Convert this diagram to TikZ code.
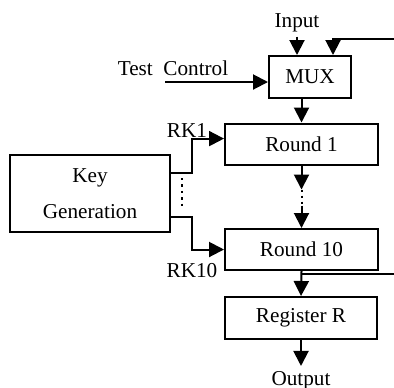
\documentclass[tikz,border=0pt]{standalone}
\usepackage{fontspec}
\setmainfont{Liberation Serif}
\usetikzlibrary{arrows.meta}
\begin{document}
\begin{tikzpicture}[x=.5pt,y=-.5pt,line width=1pt,line cap=butt,line join=miter,
		>={Triangle[length=7.5pt,width=7.5pt]},font=\fontsize{10.6}{12.7}\selectfont]
	\tikzset{blk/.style 2 args={draw,minimum width=#1pt,minimum height=#2pt,inner sep=0pt},
		lbl/.style={anchor=base,inner sep=2pt}}
	\useasboundingbox (0,0) rectangle (394,387);
	% blocks
	\node[blk={41}{21}] (mux) at (310,77) {MUX};
	\node[blk={76.5}{20.5}] (rnd1) at (301.5,144) {Round 1};
	\node[blk={76.5}{20.5}] (rnd10) at (301.5,249.5) {Round 10};
	\node[blk={76}{21}] (reg) at (301,318) {Register R};
	\node[blk={80}{38.5},align=center] (key) at (90,193.5) {Key\\[5.5pt]Generation};
	% texts
	\node[lbl] (inp) at (297,27) {Input};
	\node[lbl] (outp) at (301,385) {Output};
	\node[lbl] (tc) at (173,75) {Test\ \ Control};
	\node[lbl] (rk1) at (187,137) {RK1};
	\node[lbl] (rk10) at (192,277) {RK10};
	\coordinate (tcs) at (165,82);
	\coordinate (fbin) at (394,39);
	\coordinate (fbout) at (394,274);
	% connections
	\draw[->] (inp.south) -- (inp.south |- mux.north);
	\draw[->] (fbin) -| ([xshift=11.5pt]mux.north);
	\draw[->] (tcs) -- (tcs -| mux.west);
	\draw[->] (rnd1.north |- mux.south) -- (rnd1.north);
	\draw[->] (rnd1.south) -- ++(0,24) coordinate (d1);
	\draw[dotted] (d1) -- ++(0,16) coordinate (d2);
	\draw[->] (d2) -- (rnd10.north);
	\draw[->] (key.14) -- ++(21,0) |- (rnd1.176);
	\draw[->] (key.-16) -- ++(21,0) |- (rnd10.west);
	\draw[dotted,line width=1.2pt] (182,178) -- (182,207);
	\draw[->] (rnd10.south) -- (reg.north);
	\draw (rnd10.south |- fbout) -- (fbout);
	\draw[->] (reg.south) -- (reg.south |- outp.north);
\end{tikzpicture}
\end{document}
